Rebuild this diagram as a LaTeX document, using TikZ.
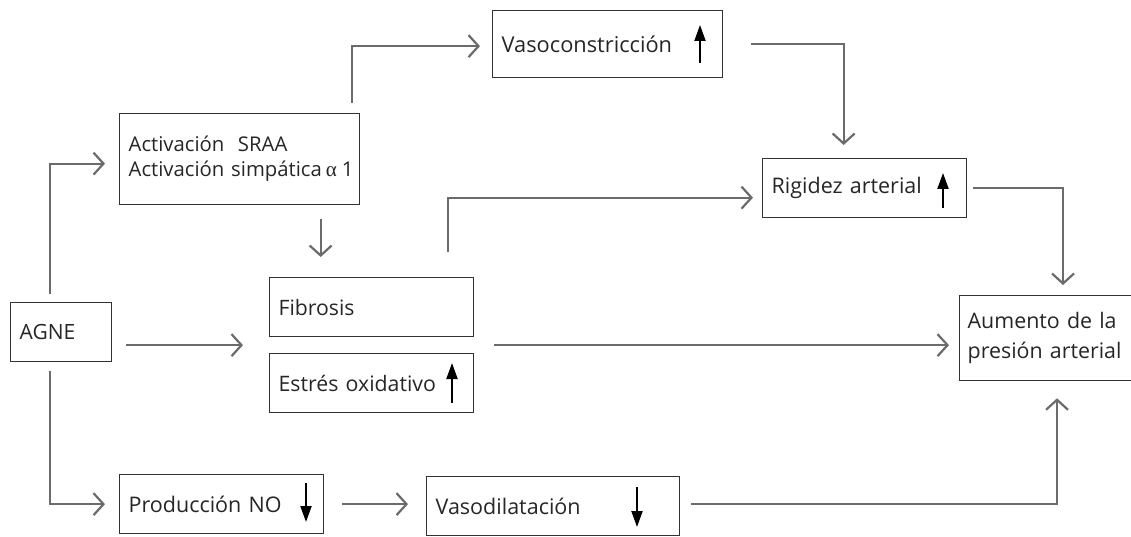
\documentclass[tikz,border=0pt]{standalone}
\usepackage{fontspec}
\setmainfont{Open Sans}
\newfontfamily\greekserif{Liberation Serif}
\usetikzlibrary{arrows.meta,calc}
\definecolor{boxc}{HTML}{333333}
\definecolor{linec}{HTML}{6B6B6B}
\begin{document}
\begin{tikzpicture}[x=1pt,y=-1pt,
  box/.style={draw=boxc, line width=1.3pt, anchor=north west, inner xsep=9pt, inner ysep=0pt,
    align=left, font=\fontsize{21.5}{25}\selectfont, text=black!85},
  conn/.style={draw=linec, line width=2.2pt, -{Straight Barb[length=10pt,width=22pt,line width=2.2pt]}},
  updown/.style={line width=2pt, -{Triangle[length=16pt,width=11pt]}}]
\useasboundingbox (0,0) rectangle (1131,537);

% boxes
\node[box, text width=212pt, minimum height=67pt, font=\fontsize{21.8}{26}\selectfont] (vaso) at (492,10) {Vasoconstricción};
\node[box, text width=222pt, minimum height=91pt, font=\fontsize{20.3}{25}\selectfont] (act) at (119,113) {Activación\ \ SRAA\\\mbox{Activación simpática\hspace{4pt}{\greekserif\fontsize{21}{25}\selectfont α}\hspace{5pt}1}};
\node[box, text width=186pt, minimum height=59pt, font=\fontsize{21.2}{25}\selectfont] (fib) at (269,277) {Fibrosis};
\node[box, text width=186pt, minimum height=59pt, font=\fontsize{21.3}{25}\selectfont] (est) at (269,353) {Estrés oxidativo};
\node[box, text width=186pt, minimum height=59pt] (rig) at (762,158) {Rigidez arterial};
\node[box, inner xsep=8pt, text width=164pt, minimum height=85pt, font=\fontsize{21.4}{30}\selectfont] (aum) at (959,295) {\makebox[163pt][s]{Aumento de la}\\presión arterial};
\node[box, text width=83pt, minimum height=59pt, font=\fontsize{21}{25}\selectfont] (agne) at (10,302) {AGNE};
\node[box, text width=186pt, minimum height=59pt] (prod) at (119,474) {Producción NO};
\node[box, text width=235pt, minimum height=59pt] (vdil) at (426,476) {Vasodilatación};

% helper coordinates
\coordinate (midL) at ($(fib.south west)!0.5!(est.north west)$);
\coordinate (midR) at ($(fib.south east)!0.5!(est.north east)$);

% connectors
\draw[conn, shorten <=8pt, shorten >=14pt] ([xshift=-11.5pt]agne.north) |- ([yshift=-4.5pt]act.west);
\draw[conn, shorten <=10pt, shorten >=12pt] ([xshift=112pt]act.north) |- ([yshift=-2pt]vaso.west);
\draw[conn, shorten <=14pt, shorten >=20pt] ([xshift=81pt]act.south) -- ([xshift=81pt]act.south |- fib.north);
\draw[conn, shorten <=14pt, shorten >=26pt] (agne.east |- midL) -- (midL);
\draw[conn, shorten <=20pt, shorten >=10pt] (midR) -- (aum.west |- midR);
\draw[conn, shorten <=25pt, shorten >=9pt] ([xshift=76pt]fib.north) |- ([yshift=-9.5pt]rig.west);
\draw[conn, shorten <=28pt, shorten >=13pt] (vaso.east) -| ([xshift=-21pt]rig.north);
\draw[conn, shorten <=6pt, shorten >=10pt] (rig.east) -| ([xshift=104pt]aum.north west);
\draw[conn, shorten <=11pt, shorten >=17pt] ([yshift=2pt]vdil.east) -| ([xshift=98pt]aum.south west);
\draw[conn, shorten <=9pt, shorten >=14pt] ([xshift=-11.5pt]agne.south) |- (prod.west);
\draw[conn, shorten <=18pt, shorten >=18pt] (prod.east) -- (vdil.west |- prod.east);

% up / down indicators
\draw[updown] ($(vaso.north west)+(208,53)$) -- ++(0,-38);
\draw[updown] ($(est.north west)+(183,50)$) -- ++(0,-40);
\draw[updown] ($(rig.north west)+(181,50)$) -- ++(0,-35);
\draw[updown] ($(prod.north west)+(187,9)$) -- ++(0,39);
\draw[updown] ($(vdil.north west)+(211,11)$) -- ++(0,40);
\end{tikzpicture}
\end{document}
